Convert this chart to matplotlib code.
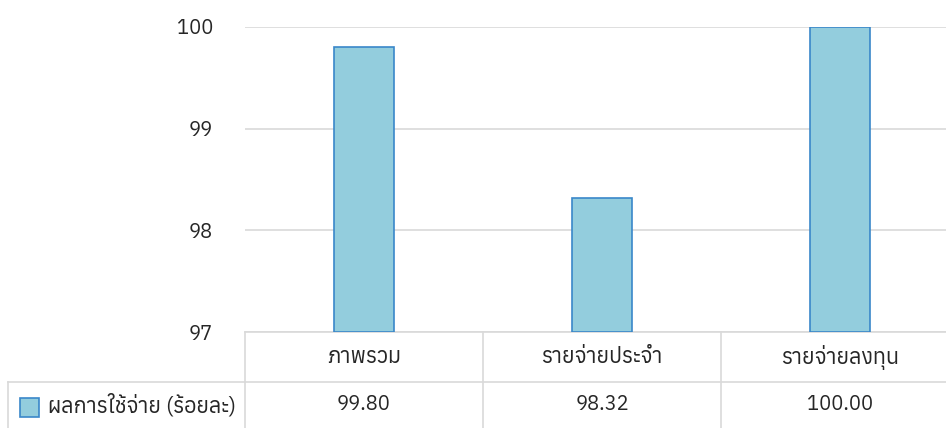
import matplotlib
matplotlib.use("Agg")
import matplotlib.pyplot as plt
from matplotlib import font_manager
from matplotlib.transforms import blended_transform_factory
from matplotlib.patches import Rectangle
from fontTools.ttLib import TTFont

categories = ["ภาพรวม", "รายจ่ายประจำ", "รายจ่ายลงทุน"]
values = [99.80, 98.32, 100.00]
value_labels = ["99.80", "98.32", "100.00"]
series_name = "ผลการใช้จ่าย (ร้อยละ)"
y_ticks = [97, 98, 99, 100]


def thai_font():
    # look for any installed font that has Thai glyphs
    found = []
    for path in font_manager.findSystemFonts():
        try:
            f = TTFont(path, fontNumber=0, lazy=True)
            cmap = f.getBestCmap() or {}
            if 0x0E01 in cmap and 0x0E32 in cmap:
                found.append(font_manager.FontProperties(fname=path).get_name())
        except Exception:
            pass
    return sorted(set(found))


thai = thai_font()
families = (thai[:1] if thai else []) + ["DejaVu Sans"]
plt.rcParams["font.family"] = families

text_color = "#262626"
grid_color = "#d9d9d9"
bar_fill = "#93cddd"
bar_edge = "#3a87c9"
thai_size = 15.5
num_size = 14.5

fig = plt.figure(figsize=(9.46, 4.28), dpi=100)
# the chart is cut on the right side, the last column goes past the edge
ax = fig.add_axes([245 / 946, 1 - 332 / 428, 714 / 946, 305 / 428])

x = range(len(categories))
ax.bar(x, [v - 97 for v in values], bottom=97, width=0.255,
       color=bar_fill, edgecolor=bar_edge, linewidth=1.2, zorder=3)

ax.set_xlim(-0.5, len(categories) - 0.5)
ax.set_ylim(97, 100)
ax.set_yticks(y_ticks)
ax.set_yticklabels([str(t) for t in y_ticks], fontsize=num_size, color=text_color)
ax.tick_params(axis="y", length=0, pad=23)
ax.set_xticks([])
ax.grid(axis="y", color=grid_color, linewidth=1.2, zorder=0)
for s in ax.spines.values():
    s.set_visible(False)

# data table under the plot
tr = blended_transform_factory(ax.transData, ax.transAxes)
h1 = -50 / 305
h2 = -96 / 305
line_kw = dict(color=grid_color, linewidth=1.2, clip_on=False)
ax.plot([-0.5, 2.5], [0, 0], transform=tr, **line_kw)
ax.plot([-0.5, 2.5], [h1, h1], transform=tr, **line_kw)
for xv in [-0.5, 0.5, 1.5, 2.5]:
    ax.plot([xv, xv], [0, h2], transform=tr, **line_kw)
# left legend cell
x_left = 8 / 946
fig.add_artist(plt.Line2D([x_left, 245 / 946], [1 - 382 / 428] * 2,
                          transform=fig.transFigure, color=grid_color, linewidth=1.2))
fig.add_artist(plt.Line2D([x_left, x_left], [1 - 382 / 428, 0],
                          transform=fig.transFigure, color=grid_color, linewidth=1.2))

for i, (cat, lab) in enumerate(zip(categories, value_labels)):
    ax.text(i, h1 / 2, cat, transform=tr, ha="center", va="center",
            fontsize=thai_size, color=text_color)
    ax.text(i, (h1 + h2) / 2, lab, transform=tr, ha="center", va="center",
            fontsize=num_size, color=text_color)

fig.add_artist(Rectangle((20 / 946, 1 - 417 / 428), 19 / 946, 19 / 428,
                         transform=fig.transFigure, facecolor=bar_fill,
                         edgecolor=bar_edge, linewidth=1.2))
fig.text(48 / 946, 1 - 406 / 428, series_name, ha="left", va="center",
         fontsize=thai_size, color=text_color)

fig.savefig("out.png", dpi=100)
